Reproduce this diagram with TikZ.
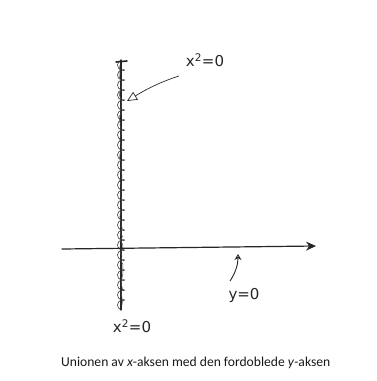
\documentclass[tikz,border=0pt]{standalone}
\usepackage{fontspec}
\setmainfont{Carlito}
\newfontfamily\handfont{DejaVu Sans}
\usetikzlibrary{arrows.meta,decorations.pathmorphing,decorations.pathreplacing}
\begin{document}
\begin{tikzpicture}[x=1pt,y=-1pt,
  pen/.style={line width=1.2pt,black!85,line cap=round},
  hand/.style={font=\handfont\fontsize{15}{15}\selectfont,text=black!85,inner sep=0pt},
  loopy/.style={line width=0.6pt,black!80,decorate,decoration={coil,amplitude=3.5pt,segment length=10pt,aspect=0.7}}]
\useasboundingbox (0,0) rectangle (377,381);
\fill[white] (0,0) rectangle (377,381);
% axes
\coordinate (ytop) at (121,60);
\coordinate (ybot) at (121,310);
\coordinate (xleft) at (62,249);
\coordinate (xright) at (316,246);
\draw[pen] (ybot) -- (ytop);
\draw[loopy] (ybot) -- (ytop);
\draw[line width=0.5pt,black!70,decorate,decoration={random steps,segment length=4pt,amplitude=1.5pt}] (122,305) -- (120,65);
\draw[pen,line width=1.6pt] (116,62) -- (127,61);
\draw[pen,line width=1.2pt,-{Stealth[length=10pt,width=9pt]}] (xleft) -- (xright);
% labels
\node[hand] (top) at (205,60) {x\textsuperscript{2}=0};
\node[hand] (yeq) at (244,295) {y=0};
\node[hand] (bot) at (132,326) {x\textsuperscript{2}=0};
\coordinate (tarr) at (127,101);
\coordinate (yarr) at (238,254);
\draw[line width=0.7pt,black!85,-{Triangle[open,length=10pt,width=9pt]}] (179,76) .. controls (160,82) and (145,90) .. (tarr);
\draw[line width=0.9pt,black!85,-{Stealth[open,length=6pt,width=7pt]}] (230,281) .. controls (236,272) and (238,264) .. (yarr);
% caption
\node[font=\fontsize{13.6}{15}\selectfont,text=black!90,anchor=west,inner sep=0pt] (cap) at (61,363) {Unionen av \textit{x}-aksen med den fordoblede \textit{y}-aksen};
\end{tikzpicture}
\end{document}
